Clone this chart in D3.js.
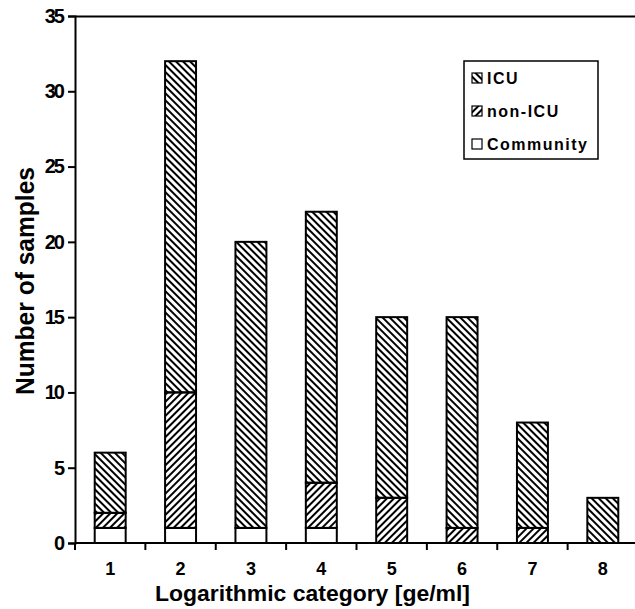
<!DOCTYPE html>
<html>
<head>
<meta charset="utf-8">
<script src="https://cdn.jsdelivr.net/npm/d3@7"></script>
<style>
  body { margin: 0; background: #fff; }
  svg { display: block; font-family: Arial, "Liberation Sans", sans-serif; }
</style>
</head>
<body>
<div id="chart"></div>
<script>
const categories = ['1', '2', '3', '4', '5', '6', '7', '8'];
const community = [1, 1, 1, 1, 0, 0, 0, 0];
const nonIcu = [1, 9, 0, 3, 3, 1, 1, 0];
const icu = [4, 22, 19, 18, 12, 14, 7, 3];
const yTicks = [0, 5, 10, 15, 20, 25, 30, 35];
const seriesNames = ['Community', 'non-ICU', 'ICU'];
const legendNames = ['ICU', 'non-ICU', 'Community'];

let width = 635, height = 609;
let plot = { left: 75, top: 16, bottom: 543, right: 638 };

let svg = d3.select('#chart').append('svg')
  .attr('width', width)
  .attr('height', height);

let defs = svg.append('defs');
function hatch(id, angle) {
  defs.append('pattern')
    .attr('id', id)
    .attr('patternUnits', 'userSpaceOnUse')
    .attr('width', 5)
    .attr('height', 5)
    .attr('patternTransform', 'rotate(' + angle + ')')
    .append('line')
      .attr('x1', 1).attr('y1', -1)
      .attr('x2', 1).attr('y2', 6)
      .attr('stroke', '#000')
      .attr('stroke-width', 2);
}
hatch('hatch-icu', -45);
hatch('hatch-nonicu', 45);

const fills = {
  'Community': '#fff',
  'non-ICU': 'url(#hatch-nonicu)',
  'ICU': 'url(#hatch-icu)'
};

let rows = categories.map((c, i) => ({
  cat: c,
  'Community': community[i],
  'non-ICU': nonIcu[i],
  'ICU': icu[i]
}));
let stacked = d3.stack().keys(seriesNames)(rows);

let x = d3.scaleBand()
  .domain(categories)
  .range([plot.left, plot.right])
  .paddingInner(0.56)
  .paddingOuter(0.28);

let y = d3.scaleLinear()
  .domain([0, 35])
  .range([plot.bottom, plot.top]);

// bars
stacked.forEach(s => {
  svg.append('g').selectAll('rect')
    .data(s.filter(d => d[1] > d[0]))
    .enter()
    .append('rect')
      .attr('x', d => x(d.data.cat))
      .attr('y', d => y(d[1]))
      .attr('width', x.bandwidth())
      .attr('height', d => y(d[0]) - y(d[1]))
      .attr('fill', fills[s.key])
      .attr('stroke', '#000')
      .attr('stroke-width', 2);
});

// y axis
let yAxis = svg.append('g')
  .attr('transform', 'translate(' + plot.left + ',0)')
  .call(d3.axisLeft(y).tickValues(yTicks).tickSize(7).tickPadding(5));
yAxis.select('.domain').attr('stroke-width', 2);
yAxis.selectAll('.tick line').attr('stroke-width', 2);
yAxis.selectAll('text')
  .attr('font-size', 20)
  .attr('font-weight', 'bold')
  .attr('letter-spacing', -2)
  .attr('font-family', 'Arial, "Liberation Sans", sans-serif')
  .attr('fill', '#000');

// top frame line
svg.append('line')
  .attr('x1', plot.left).attr('x2', width)
  .attr('y1', plot.top + 0.5).attr('y2', plot.top + 0.5)
  .attr('stroke', '#000')
  .attr('stroke-width', 2);

// x axis
let xAxisG = svg.append('g')
  .attr('transform', 'translate(0,' + plot.bottom + ')');
xAxisG.append('line')
  .attr('x1', plot.left).attr('x2', width)
  .attr('stroke', '#000')
  .attr('stroke-width', 2);
let step = x.step();
let boundaries = d3.range(categories.length + 1).map(i => plot.left + i * step);
xAxisG.selectAll('.bt')
  .data(boundaries)
  .enter()
  .append('line')
    .attr('x1', d => d).attr('x2', d => d)
    .attr('y1', 0).attr('y2', 7)
    .attr('stroke', '#000')
    .attr('stroke-width', 2);
xAxisG.selectAll('.lbl')
  .data(categories)
  .enter()
  .append('text')
    .attr('x', d => x(d) + x.bandwidth() / 2)
    .attr('y', 32)
    .attr('text-anchor', 'middle')
    .attr('font-size', 18)
    .attr('font-weight', 'bold')
    .text(d => d);

// axis titles
svg.append('text')
  .attr('x', 155)
  .attr('y', 601)
  .attr('font-size', 22)
  .attr('font-weight', 'bold')
  .attr('textLength', 315)
  .attr('lengthAdjust', 'spacingAndGlyphs')
  .text('Logarithmic category [ge/ml]');

svg.append('text')
  .attr('transform', 'translate(34,395) rotate(-90)')
  .attr('font-size', 26)
  .attr('font-weight', 'bold')
  .attr('textLength', 228)
  .attr('lengthAdjust', 'spacingAndGlyphs')
  .text('Number of samples');

// legend
let legend = svg.append('g');
legend.append('rect')
  .attr('x', 464).attr('y', 61)
  .attr('width', 134).attr('height', 98)
  .attr('fill', '#fff')
  .attr('stroke', '#000')
  .attr('stroke-width', 1.5);
let li = legend.selectAll('.item')
  .data(legendNames)
  .enter()
  .append('g')
    .attr('transform', (d, i) => 'translate(472,' + (78 + i * 33) + ')');
li.append('rect')
  .attr('x', 0).attr('y', -5)
  .attr('width', 10).attr('height', 10)
  .attr('fill', d => fills[d])
  .attr('stroke', '#000')
  .attr('stroke-width', 1.2);
li.append('text')
  .attr('x', 15)
  .attr('y', 6)
  .attr('font-size', 16)
  .attr('font-weight', 'bold')
  .attr('letter-spacing', 1.5)
  .text(d => d);
</script>
</body>
</html>
